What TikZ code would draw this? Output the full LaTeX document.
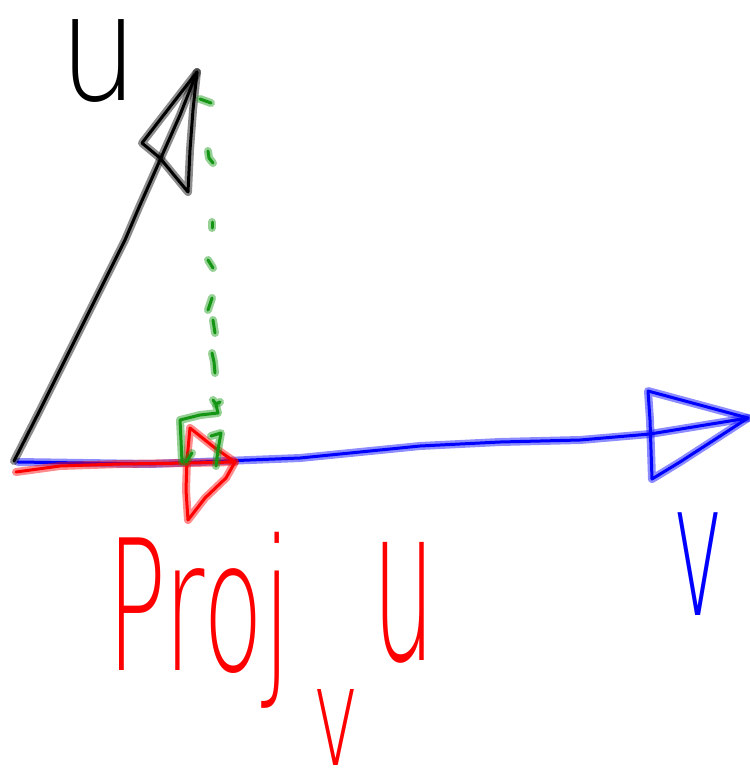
\documentclass[tikz,border=0pt]{standalone}
\usepackage{fontspec}
\IfFontExistsTF{DejaVu Sans ExtraLight}
  {\newfontfamily\hand{DejaVu Sans ExtraLight}}
  {\newfontfamily\hand{DejaVu Sans}}
\newcommand\handsz[2]{\hand\addfontfeatures{FakeStretch=#2}\fontsize{#1}{#1}\selectfont}
\begin{document}
\begin{tikzpicture}[x=1pt,y=-1pt,
  ink/.style={draw=#1, line width=3pt, line cap=round, line join=round,
    preaction={draw=#1, line width=8pt, draw opacity=0.45, line cap=round, line join=round}},
  txt/.style={text=#1, inner sep=0pt}]
\useasboundingbox (0,0) rectangle (750,777);
\definecolor{inkgreen}{RGB}{20,150,20}
% key points
\coordinate (O) at (14,461);
\coordinate (Utip) at (197,72);
\coordinate (Vtip) at (748,418);
\coordinate (Ptip) at (235,462);
% blue vector v
\draw[ink=blue] (18,462) -- (150,464) -- (250,460) -- (300,458) -- (360,452) -- (420,446) -- (500,442) -- (580,440) -- (650,434) -- (Vtip);
\draw[ink=blue] (Vtip) -- (648,391) -- (650,420) -- (652,479) -- (680,462) -- cycle;
% red projection
\draw[ink=red] (16,472) -- (60,466) -- (120,464) -- (190,463) -- (Ptip);
\draw[ink=red] (190,428) -- (215,448) -- (Ptip) -- (226,478) -- (205,498) -- (188,520) -- (186,490) -- (187,460) -- cycle;
% black vector u
\draw[ink=black] (O) -- (40,410) -- (75,340) -- (100,290) -- (125,240) -- (140,205) -- (160,160) -- (180,115) -- (Utip);
\draw[ink=black] (Utip) -- (142,143) -- (160,158) -- (188,192) -- (190,150) -- (193,110) -- cycle;
% green dotted line
\draw[ink=inkgreen] (200,99) -- (211,103);
\draw[ink=inkgreen] (208,151) -- (209,158) -- (213,163);
\draw[ink=inkgreen] (212,222) -- (212,228);
\draw[ink=inkgreen] (208,260) -- (213,268);
\draw[ink=inkgreen] (212,298) -- (208,310);
\draw[ink=inkgreen] (213,320) -- (215,333);
\draw[ink=inkgreen] (212,353) -- (214,362) -- (215,373);
\draw[ink=inkgreen] (213,400) -- (216,404) -- (220,402);
% right angle mark
\draw[ink=inkgreen] (182,462) -- (181,440) -- (180,420) -- (200,415) -- (218,413) -- (216,405);
\draw[ink=inkgreen] (192,453) -- (186,462);
\draw[ink=inkgreen] (211,436) -- (221,433) -- (218,450) -- (216,466);
% labels
\node[txt=black, anchor=base, font=\handsz{148}{0.84}] (ulabel) at (99,100) {u};
\node[txt=blue, anchor=base, font=\handsz{188}{0.46}] (vlabel) at (698,615) {v};
\node[txt=red, anchor=base west, font=\handsz{182}{0.54}] (proj) at (107,670) {Proj};
\node[txt=red, anchor=base, font=\handsz{139}{0.57}] (projsub) at (336,765) {v};
\node[txt=red, anchor=base, font=\handsz{216}{0.46}] (projsup) at (404,660) {u};
\end{tikzpicture}
\end{document}
